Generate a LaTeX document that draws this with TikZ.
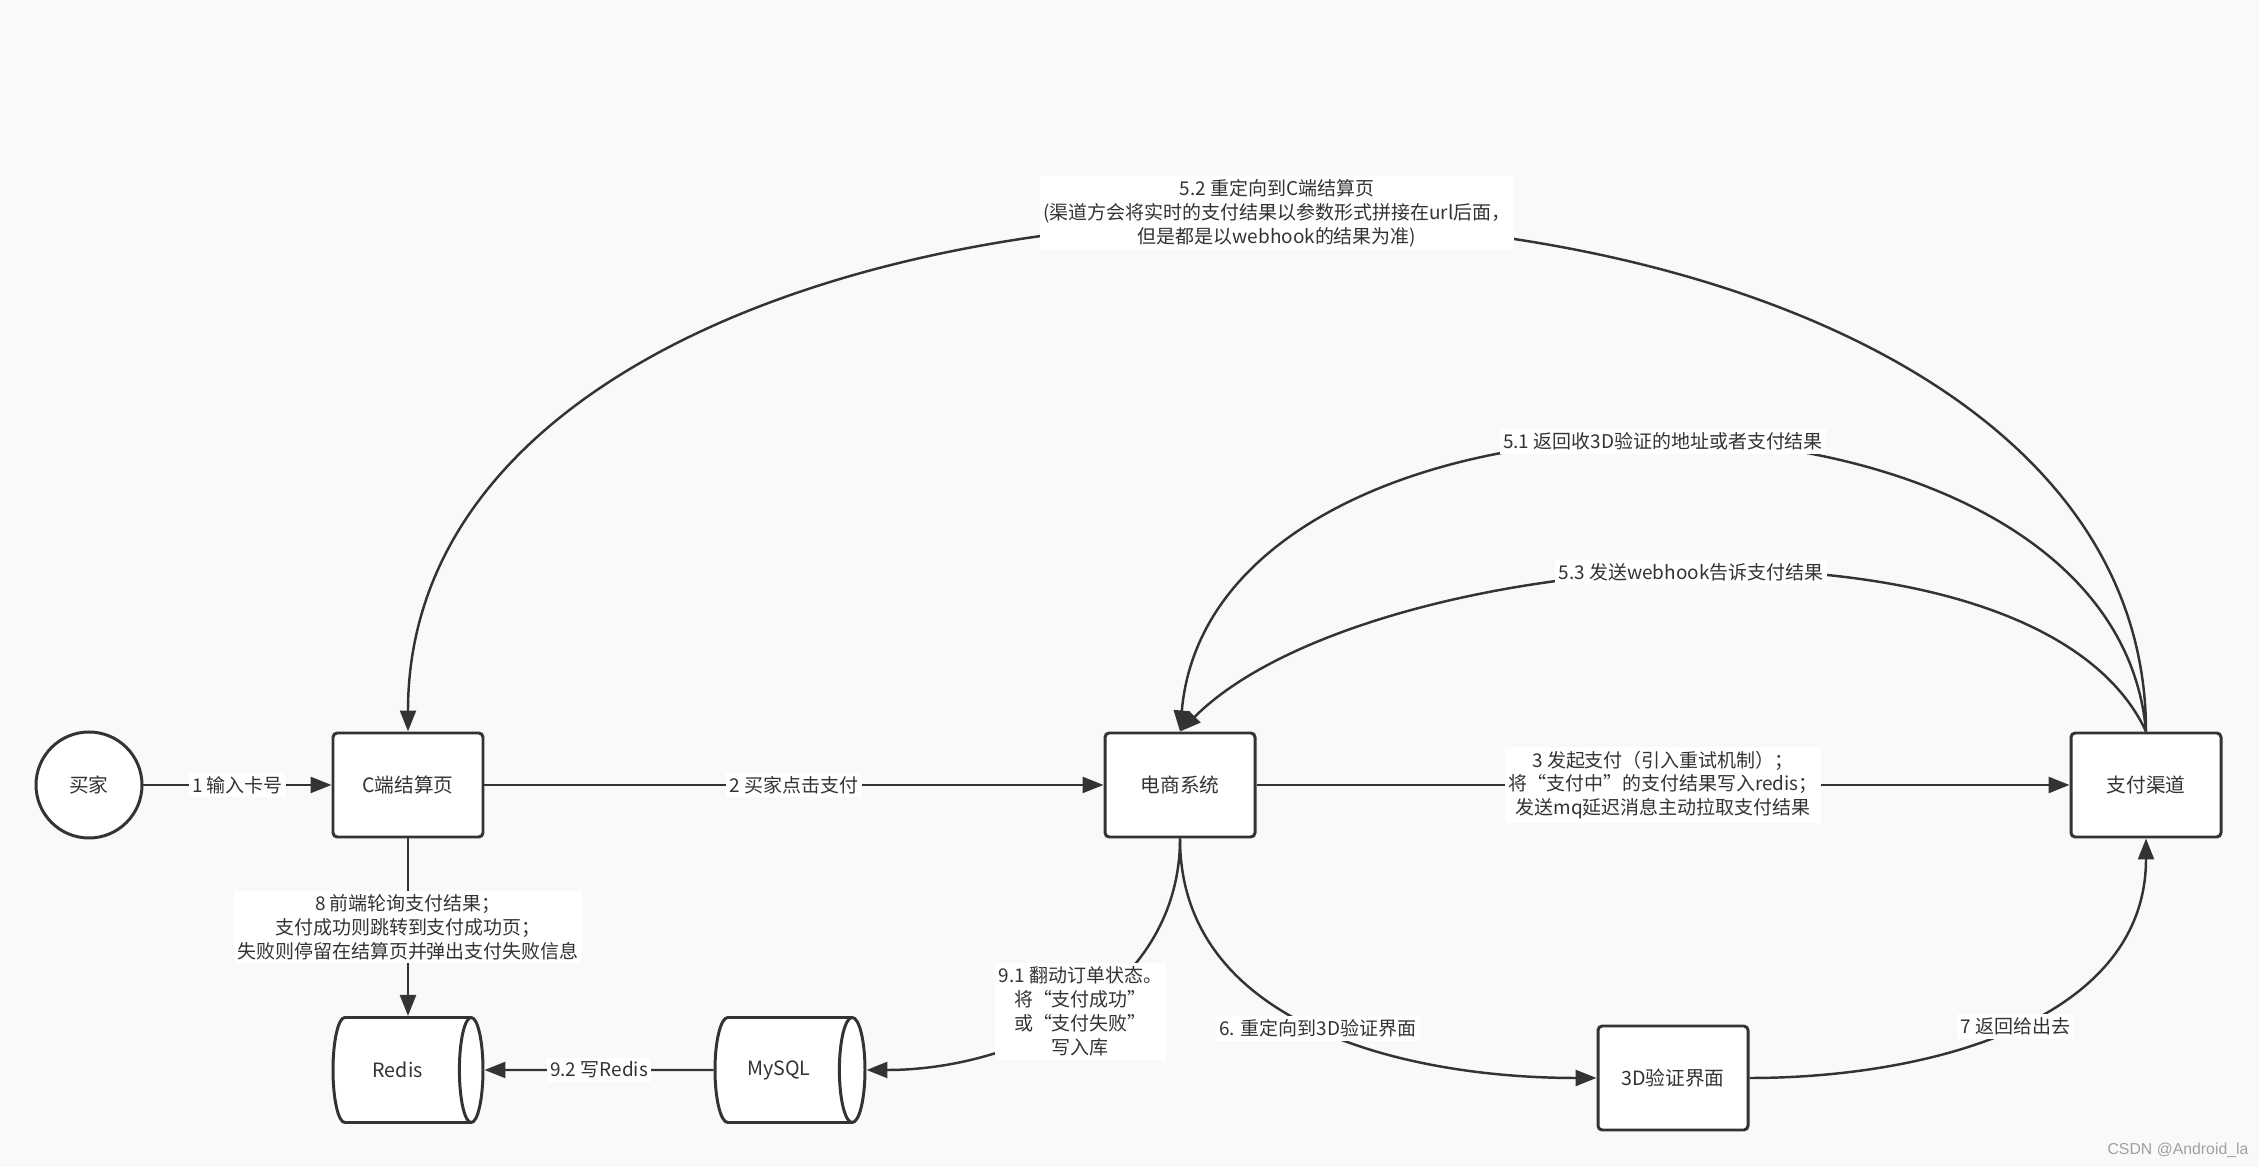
\documentclass[tikz,border=0pt]{standalone}
\usepackage{fontspec}
\setmainfont{Noto Sans CJK SC}
\newfontfamily\markfont{Liberation Sans}
\usetikzlibrary{arrows.meta,shapes.geometric}
\definecolor{bgcol}{HTML}{F9F9F9}
\definecolor{ink}{HTML}{333333}
\definecolor{markgray}{HTML}{A0A0A0}

\begin{document}
\begin{tikzpicture}[->,>={Triangle[length=0.21cm,width=0.16cm]},line width=0.7pt,color=ink,node distance=3.19cm,
    main node/.style={rectangle,rounded corners=1.2pt,draw,fill=white,line width=0.85pt,minimum width=1.5cm,minimum height=1.04cm,font=\fontsize{5.6pt}{7pt}\selectfont},
    user node/.style={circle,draw,fill=white,line width=0.85pt,minimum size=1.06cm,font=\fontsize{5.6pt}{7pt}\selectfont},
    db node/.style={cylinder,aspect=0.6,anchor=shape center,draw,fill=white,line width=0.85pt,minimum height=1.5cm,minimum width=1.05cm,font=\fontsize{5.6pt}{7pt}\selectfont},
    edge label/.style={fill=white,inner sep=1pt,align=center,font=\fontsize{5.4pt}{6.8pt}\selectfont}]
    \fill[bgcol,-] (0,0) rectangle (22.59,-11.67);
    \useasboundingbox (0,0) rectangle (22.59,-11.67);

    \node[user node] (1) at (0.89,-7.85) {买家};
    \node[main node] (2) [right of=1] {C端结算页};
    \node[main node] (3) [node distance=7.72cm,right of=2] {电商系统};
    \node[main node] (4) [node distance=9.66cm,right of=3] {支付渠道};
    \node[main node] (5) at (16.73,-10.78) {3D验证界面};
    \node[db node] (6) at (4.08,-10.70) {Redis};
    \node[db node] (7) at (7.90,-10.70) {MySQL};

    \path[every node/.style={edge label}]
        (1) edge node {1 输入卡号} (2)
        (2) edge node {2 买家点击支付} (3)
        (3) edge node {3 发起支付（引入重试机制）；\\将“支付中”的支付结果写入redis；\\发送mq延迟消息主动拉取支付结果} (4)
        (4.north) edge[out=95,in=85,looseness=1.03] node {5.1 返回收3D验证的地址或者支付结果} (3.north)
        (4.north) edge[out=90,in=90] node[yshift=0.1cm] {5.2 重定向到C端结算页\\(渠道方会将实时的支付结果以参数形式拼接在url后面，\\但是都是以webhook的结果为准)} (2.north)
        (4.north) edge[out=115,in=45,looseness=0.7] node {5.3 发送webhook告诉支付结果} (3.north)
        (3.south) edge[out=-90,in=180] node {6. 重定向到3D验证界面} (5)
        (5) edge[out=0,in=-90] node {7 返回给出去} (4.south)
        (2.south) edge node {8 前端轮询支付结果；\\支付成功则跳转到支付成功页；\\失败则停留在结算页并弹出支付失败信息} (2.south |- 6.north)
        (3.south) edge[out=-90,in=0] node {9.1 翻动订单状态。\\将“支付成功”\\或“支付失败”\\写入库} (7.east)
        (7.west) edge node {9.2 写Redis} (6.east)
        ;

    \node[font=\markfont\fontsize{4.5pt}{5pt}\selectfont,text=markgray] (mark) at (21.78,-11.50) {CSDN @Android\_la};
\end{tikzpicture}
\end{document}
